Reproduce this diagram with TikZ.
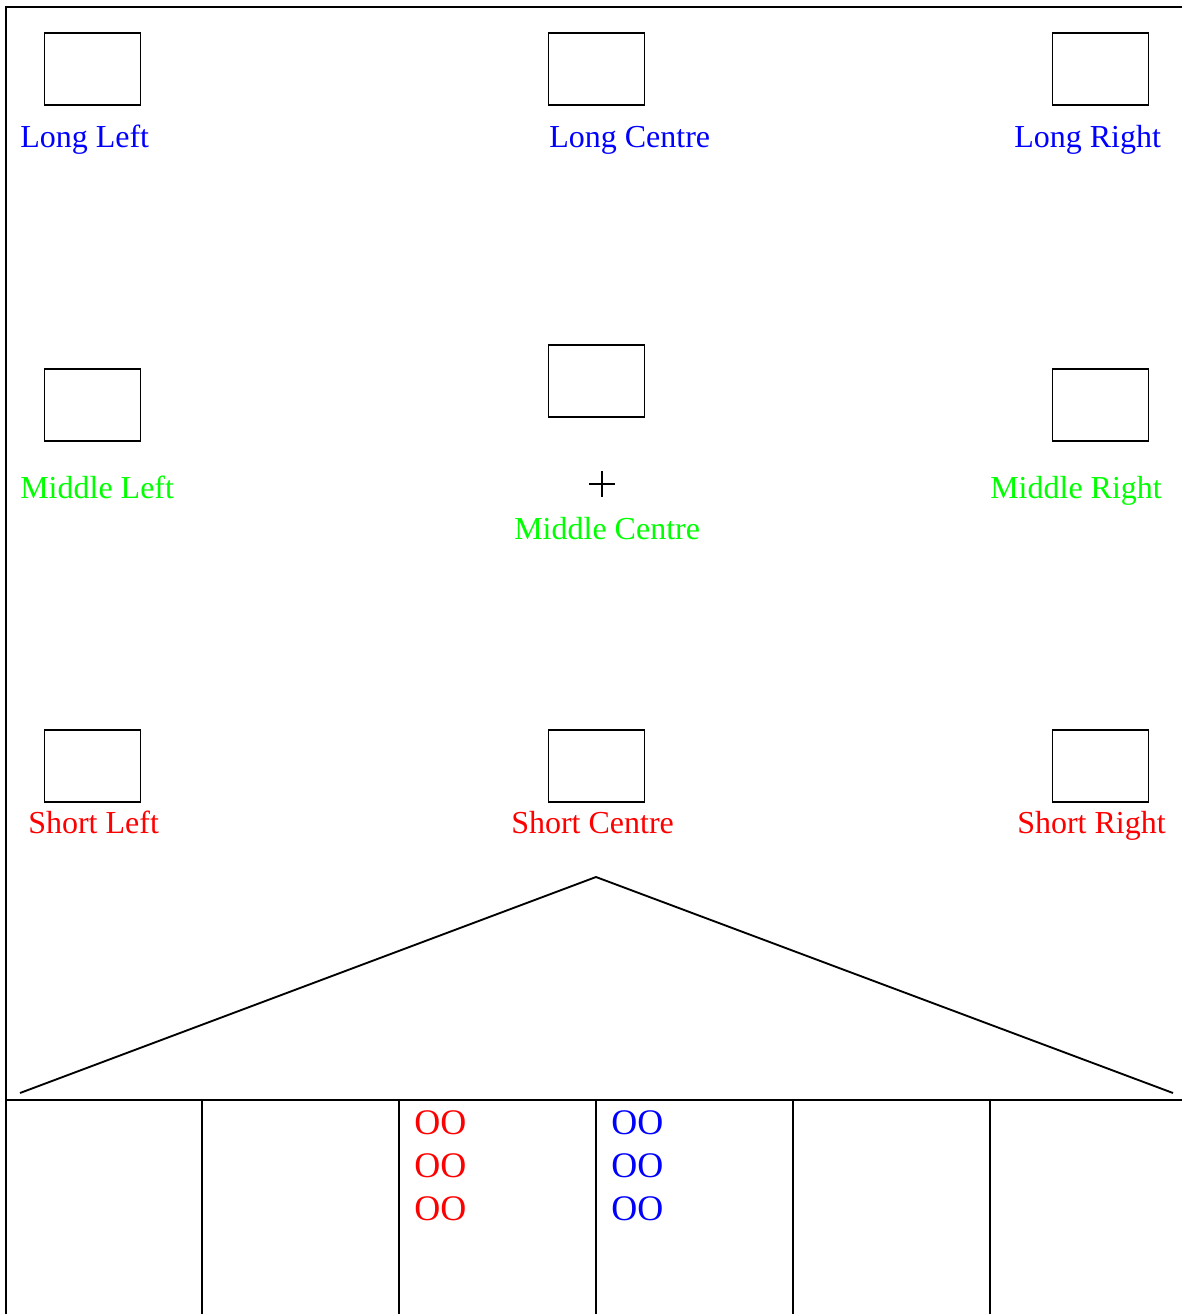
\documentclass[tikz,border=0pt]{standalone}
\usepackage{fontspec}
\setmainfont{Liberation Serif}
\definecolor{pblue}{RGB}{0,0,255}
\definecolor{pgreen}{RGB}{0,255,0}
\definecolor{pred}{RGB}{255,0,0}
\begin{document}
\begin{tikzpicture}[x=0.75pt,y=-0.75pt,
  box/.style={draw=black,line width=1.4pt,minimum width=72pt,minimum height=54pt,inner sep=0pt,anchor=north west},
  lbl/.style={anchor=base west,inner sep=0pt,font=\fontsize{24pt}{28pt}\selectfont},
  oo/.style={anchor=north west,inner sep=0pt,align=left,font=\fontsize{27pt}{32.4pt}\selectfont},
  frame/.style={line width=1.8pt},
  thin/.style={line width=1.4pt}]
\useasboundingbox (0,0) rectangle (1182,1314);
% frame
\coordinate (TR) at (1182,7);
\coordinate (TL) at (6,7);
\coordinate (BL) at (6,1314);
\draw[frame] (TR) -- (TL) -- (BL);
% boxes
\node[box] (bLL) at (43.5,32) {};
\node[box] (bLC) at (547.5,32) {};
\node[box] (bLR) at (1051.5,32) {};
\node[box] (bML) at (43.5,368) {};
\node[box] (bMC) at (547.5,344) {};
\node[box] (bMR) at (1051.5,368) {};
\node[box] (bSL) at (43.5,729) {};
\node[box] (bSC) at (547.5,729) {};
\node[box] (bSR) at (1051.5,729) {};
% labels
\node[lbl,text=pblue] (tLL) at (20,147) {Long Left};
\node[lbl,text=pblue] (tLC) at (549,147) {Long Centre};
\node[lbl,text=pblue] (tLR) at (1014,147) {Long Right};
\node[lbl,text=pgreen] (tML) at (20,498) {Middle Left};
\node[lbl,text=pgreen] (tMC) at (514,539) {Middle Centre};
\node[lbl,text=pgreen] (tMR) at (990,498) {Middle Right};
\node[lbl,text=pred] (tSL) at (28,833) {Short Left};
\node[lbl,text=pred] (tSC) at (511,833) {Short Centre};
\node[lbl,text=pred] (tSR) at (1017,833) {Short Right};
% plus
\coordinate (pc) at (602,484);
\draw[thin] ([xshift=-13*0.75pt]pc) -- ([xshift=13*0.75pt]pc);
\draw[thin] ([yshift=13*0.75pt]pc) -- ([yshift=-13*0.75pt]pc);
% roof
\coordinate (r1) at (20,1093);
\coordinate (r2) at (596,877);
\coordinate (r3) at (1173,1093);
\draw[thin] (r1) -- (r2) -- (r3);
% table
\coordinate (h1) at (6,1100);
\coordinate (h2) at (1182,1100);
\draw[frame] (h1) -- (h2);
\foreach \x in {202,399,596,793,990}{
  \draw[frame] (\x,1100) -- (\x,1314);
}
\node[oo,text=pred] (ooR) at (414,1110) {OO\\OO\\OO};
\node[oo,text=pblue] (ooB) at (611,1110) {OO\\OO\\OO};
\end{tikzpicture}
\end{document}
